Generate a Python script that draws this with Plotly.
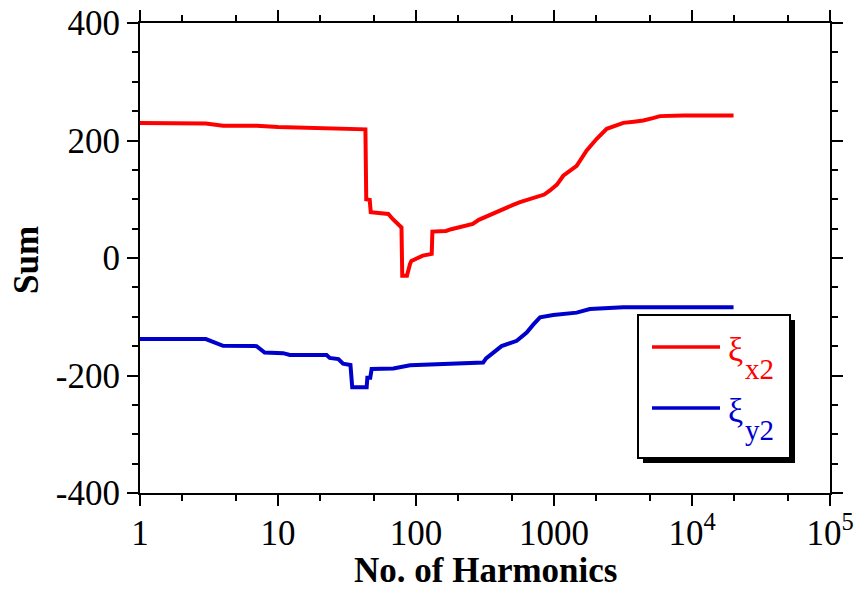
import plotly.graph_objects as go

# Cumulative sums versus number of harmonics
harm_x2 = [1, 3, 4, 7, 10, 15, 21, 25, 43, 43.6, 44.2, 46.2, 47, 55, 63, 68, 74.5, 78.5, 79.5,
           86, 90.5, 92.6, 112, 130, 131.5, 134, 165, 180, 218, 258, 285, 330, 363, 400,
           454, 500, 567, 650, 749, 850, 935, 1050, 1167, 1300, 1459, 1726, 2040, 2410,
           2800, 3180, 3800, 4435, 5200, 5865, 8650, 20000]
sum_x2 = [230, 229, 225, 225, 223, 222, 221, 220, 219, 100, 100, 99, 78, 77, 75, 66, 57, 52, -30,
          -30, -10, -5, 4, 7, 45, 45, 46, 49, 53, 58, 65, 72, 75, 80,
          86, 90, 95, 99, 103, 108, 115, 125, 140, 148, 157, 183, 203, 220,
          226, 230, 232, 234, 238, 241.5, 242.6, 242.6]

harm_y2 = [1, 3, 4, 7, 8, 10.9, 12.2, 22.5, 23.7, 27.4, 29.6, 33.5, 34.5, 43.9, 44.4, 46.6,
           47.7, 68.5, 90.5, 126, 218, 307, 322, 373, 417, 537, 634, 710, 792, 988, 1460,
           1820, 3180, 20000]
sum_y2 = [-138, -138, -149.5, -150, -161, -162, -165, -165, -170, -172, -180, -182, -220, -220,
          -204, -204, -189, -188, -182.5, -181, -179, -177.8, -171, -158, -150, -141, -127,
          -113, -101, -97, -93, -87, -84, -84]

x_ticks = [1, 10, 100, 1000, 1e4, 1e5]
x_tick_text = ["1", "10", "100", "1000", "10<sup>4</sup>", "10<sup>5</sup>"]
y_ticks = [-400, -200, 0, 200, 400]
y_tick_text = ["-400", "-200", "0", "200", "400"]

RED = "#ff0000"
BLUE = "#0000cc"
FONT = "Liberation Serif"

W, H = 857, 589
L, R, T, B = 140, 27, 23, 96

fig = go.Figure()
fig.add_trace(go.Scatter(x=harm_x2, y=sum_x2, mode="lines", name="ξx2",
                         line=dict(color=RED, width=4)))
fig.add_trace(go.Scatter(x=harm_y2, y=sum_y2, mode="lines", name="ξy2",
                         line=dict(color=BLUE, width=4)))

axis_common = dict(
    showline=True, linecolor="black", linewidth=2, automargin=False,
    mirror="allticks", ticks="outside", ticklen=11, tickwidth=2, tickcolor="black",
    showgrid=False, zeroline=False,
    tickfont=dict(family=FONT, size=35, color="black"),
)

fig.update_xaxes(
    type="log", range=[0, 5], tickmode="array", tickvals=x_ticks, ticktext=x_tick_text,
    ticklabelstandoff=-3,
    minor=dict(ticks="outside", ticklen=6, tickwidth=1.5, tickcolor="black", showgrid=False),
    **axis_common,
)
fig.update_yaxes(
    range=[-400, 400], tickmode="array", tickvals=y_ticks, ticktext=y_tick_text,
    minor=dict(ticks="outside", ticklen=6, tickwidth=1.5, tickcolor="black", dtick=50, showgrid=False),
    **axis_common,
)

pw, ph = W - L - R, H - T - B


def px(xp):
    return (xp - L) / pw


def py(yp):
    return (H - B - yp) / ph


# Axis titles
title_font = dict(family=FONT, size=35, color="black", weight="bold")
fig.add_annotation(xref="paper", yref="paper", x=0.5, y=py(570), xanchor="center", yanchor="middle",
                   showarrow=False, text="No. of Harmonics", font=title_font)
fig.add_annotation(xref="paper", yref="paper", x=px(26), y=py(260), xanchor="center", yanchor="middle",
                   showarrow=False, text="Sum", textangle=-90, font=title_font)

# Legend panel with a drop shadow
box = dict(x0=638, x1=790, y0=315, y1=458)
shadow = 5
fig.add_shape(type="rect", xref="paper", yref="paper",
              x0=px(box["x0"] + shadow), x1=px(box["x1"] + shadow),
              y0=py(box["y1"] + shadow), y1=py(box["y0"] + shadow),
              fillcolor="black", line=dict(width=0))
fig.add_shape(type="rect", xref="paper", yref="paper",
              x0=px(box["x0"]), x1=px(box["x1"]), y0=py(box["y1"]), y1=py(box["y0"]),
              fillcolor="white", line=dict(color="black", width=2))

entries = [("x2", RED, 347), ("y2", BLUE, 408)]
for sub, color, yl in entries:
    fig.add_shape(type="line", xref="paper", yref="paper",
                  x0=px(652), x1=px(720), y0=py(yl), y1=py(yl),
                  line=dict(color=color, width=3.5))
    fig.add_annotation(xref="paper", yref="paper", x=px(726), y=py(yl + 2),
                       xanchor="left", yanchor="middle", showarrow=False,
                       text="ξ", font=dict(family=FONT, size=34, color=color))
    fig.add_annotation(xref="paper", yref="paper", x=px(743), y=py(yl + 22),
                       xanchor="left", yanchor="middle", showarrow=False,
                       text=sub, font=dict(family=FONT, size=29, color=color))

fig.update_layout(
    width=W, height=H, margin=dict(l=L, r=R, t=T, b=B),
    paper_bgcolor="white", plot_bgcolor="white", showlegend=False,
)

fig.write_html("out.html")
